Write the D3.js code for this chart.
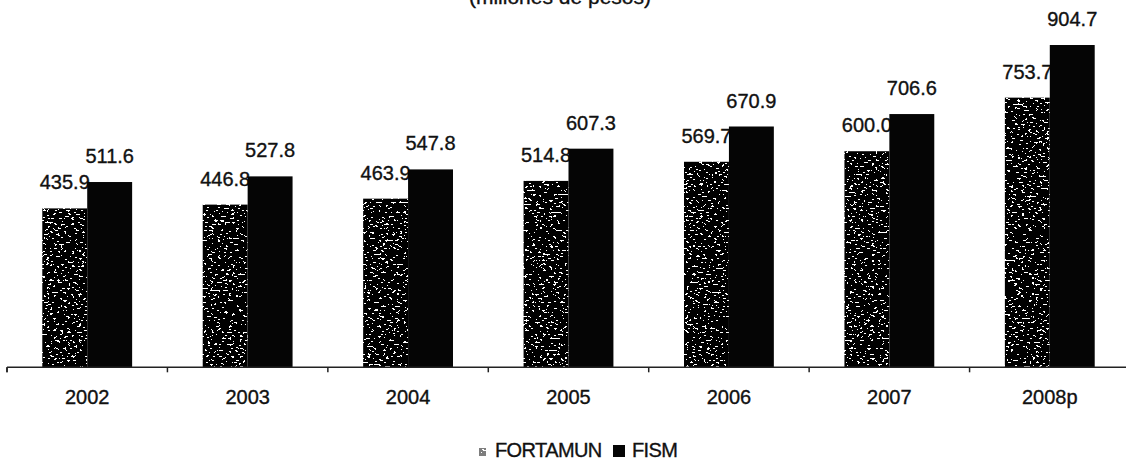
<!DOCTYPE html>
<html>
<head>
<meta charset="utf-8">
<script src="https://cdn.jsdelivr.net/npm/d3@7/dist/d3.min.js"></script>
<style>
  html, body { margin: 0; padding: 0; background: #fff; }
  svg { display: block; }
  text { font-family: "Liberation Sans", Arial, sans-serif; fill: #111; stroke: #111; stroke-width: 0.35; }
</style>
</head>
<body>
<svg id="chart" width="1126" height="462"></svg>
<script>
const categories = ["2002", "2003", "2004", "2005", "2006", "2007", "2008p"];
const fortamun = [435.9, 446.8, 463.9, 514.8, 569.7, 600.0, 753.7];
const fism = [511.6, 527.8, 547.8, 607.3, 670.9, 706.6, 904.7];
const seriesNames = ["FORTAMUN", "FISM"];
const title = "(millones de pesos)";
const labelText = v => v.toFixed(1);

const W = 1126, H = 462;
const svg = d3.select("#chart");

const defs = svg.append("defs");
const f = defs.append("filter")
  .attr("id", "stipple")
  .attr("x", 0).attr("y", 0).attr("width", "100%").attr("height", "100%")
  .attr("color-interpolation-filters", "sRGB");
f.append("feTurbulence")
  .attr("type", "fractalNoise")
  .attr("baseFrequency", "0.28 0.5")
  .attr("numOctaves", 2)
  .attr("seed", 7)
  .attr("result", "t");
f.append("feColorMatrix")
  .attr("in", "t").attr("type", "matrix")
  .attr("values", "0 0 0 0 0  0 0 0 0 0  0 0 0 0 0  1 0 0 0 0")
  .attr("result", "a");
const ct = f.append("feComponentTransfer").attr("in", "a").attr("result", "th");
ct.append("feFuncA").attr("type", "discrete")
  .attr("tableValues", "0 0 0 0 0 0 0 1 1 1 1 1 1 1 1 1 1 1 1 1");
f.append("feFlood").attr("flood-color", "#fff").attr("result", "w");
const m = f.append("feMerge").attr("result", "mix");
m.append("feMergeNode").attr("in", "w");
m.append("feMergeNode").attr("in", "th");
f.append("feComposite").attr("in", "mix").attr("in2", "SourceGraphic").attr("operator", "in");

const x = d3.scaleBand()
  .domain(categories)
  .range([7, 1130])
  .paddingInner(0.44)
  .paddingOuter(0.22);

const xs = d3.scaleBand()
  .domain(seriesNames)
  .range([0, x.bandwidth()]);

const y = d3.scaleLinear()
  .domain([-20, 1000])
  .range([367.3, 11.8]);

const base = y(-20);

// title (cropped at top, as in the source)
svg.append("text")
  .attr("x", 560).attr("y", 4)
  .attr("text-anchor", "middle")
  .attr("font-size", 21)
  .text(title);

const g = svg.append("g");

g.selectAll("rect.fort").data(categories).join("rect")
  .attr("class", "fort")
  .attr("x", d => x(d) + xs("FORTAMUN"))
  .attr("width", xs.bandwidth())
  .attr("y", (d, i) => y(fortamun[i]))
  .attr("height", (d, i) => base - y(fortamun[i]))
  .attr("fill", "#000")
  .attr("filter", "url(#stipple)");

g.selectAll("text.fortl").data(categories).join("text")
  .attr("class", "fortl")
  .attr("x", d => x(d) + xs("FORTAMUN") + xs.bandwidth() / 2)
  .attr("y", (d, i) => y(fortamun[i]) - 19)
  .attr("text-anchor", "middle")
  .attr("font-size", 20)
  .text((d, i) => labelText(fortamun[i]));

g.selectAll("rect.fism").data(categories).join("rect")
  .attr("class", "fism")
  .attr("x", d => x(d) + xs("FISM"))
  .attr("width", xs.bandwidth())
  .attr("y", (d, i) => y(fism[i]))
  .attr("height", (d, i) => base - y(fism[i]))
  .attr("fill", "#050505");

g.selectAll("text.fisml").data(categories).join("text")
  .attr("class", "fisml")
  .attr("x", d => x(d) + xs("FISM") + xs.bandwidth() / 2)
  .attr("y", (d, i) => y(fism[i]) - 19)
  .attr("text-anchor", "middle")
  .attr("font-size", 20)
  .text((d, i) => labelText(fism[i]));

svg.append("line")
  .attr("x1", x.range()[0]).attr("x2", W)
  .attr("y1", base).attr("y2", base)
  .attr("stroke", "#222").attr("stroke-width", 1.5);

const bounds = categories.map(d => x(d) - x.step() * x.paddingInner() / 2).concat([x.range()[0]]);
svg.selectAll("line.tick").data(bounds).join("line")
  .attr("class", "tick")
  .attr("x1", d => d).attr("x2", d => d)
  .attr("y1", base).attr("y2", base + 5)
  .attr("stroke", "#222").attr("stroke-width", 1.5);

svg.selectAll("text.cat").data(categories).join("text")
  .attr("class", "cat")
  .attr("x", d => x(d) + x.bandwidth() / 2)
  .attr("y", base + 37)
  .attr("text-anchor", "middle")
  .attr("font-size", 20)
  .text(d => d);

const lg = svg.append("g");
lg.append("rect")
  .attr("x", 479).attr("y", 448).attr("width", 7).attr("height", 8)
  .attr("fill", "#000").attr("filter", "url(#stipple)").attr("opacity", 0.5);
lg.append("text")
  .attr("x", 495).attr("y", 457)
  .attr("font-size", 20).attr("letter-spacing", -0.6)
  .text(seriesNames[0]);
lg.append("rect")
  .attr("x", 613).attr("y", 445).attr("width", 12).attr("height", 12)
  .attr("fill", "#050505");
lg.append("text")
  .attr("x", 632).attr("y", 457)
  .attr("font-size", 20).attr("letter-spacing", -0.6)
  .text(seriesNames[1]);
</script>
</body>
</html>
